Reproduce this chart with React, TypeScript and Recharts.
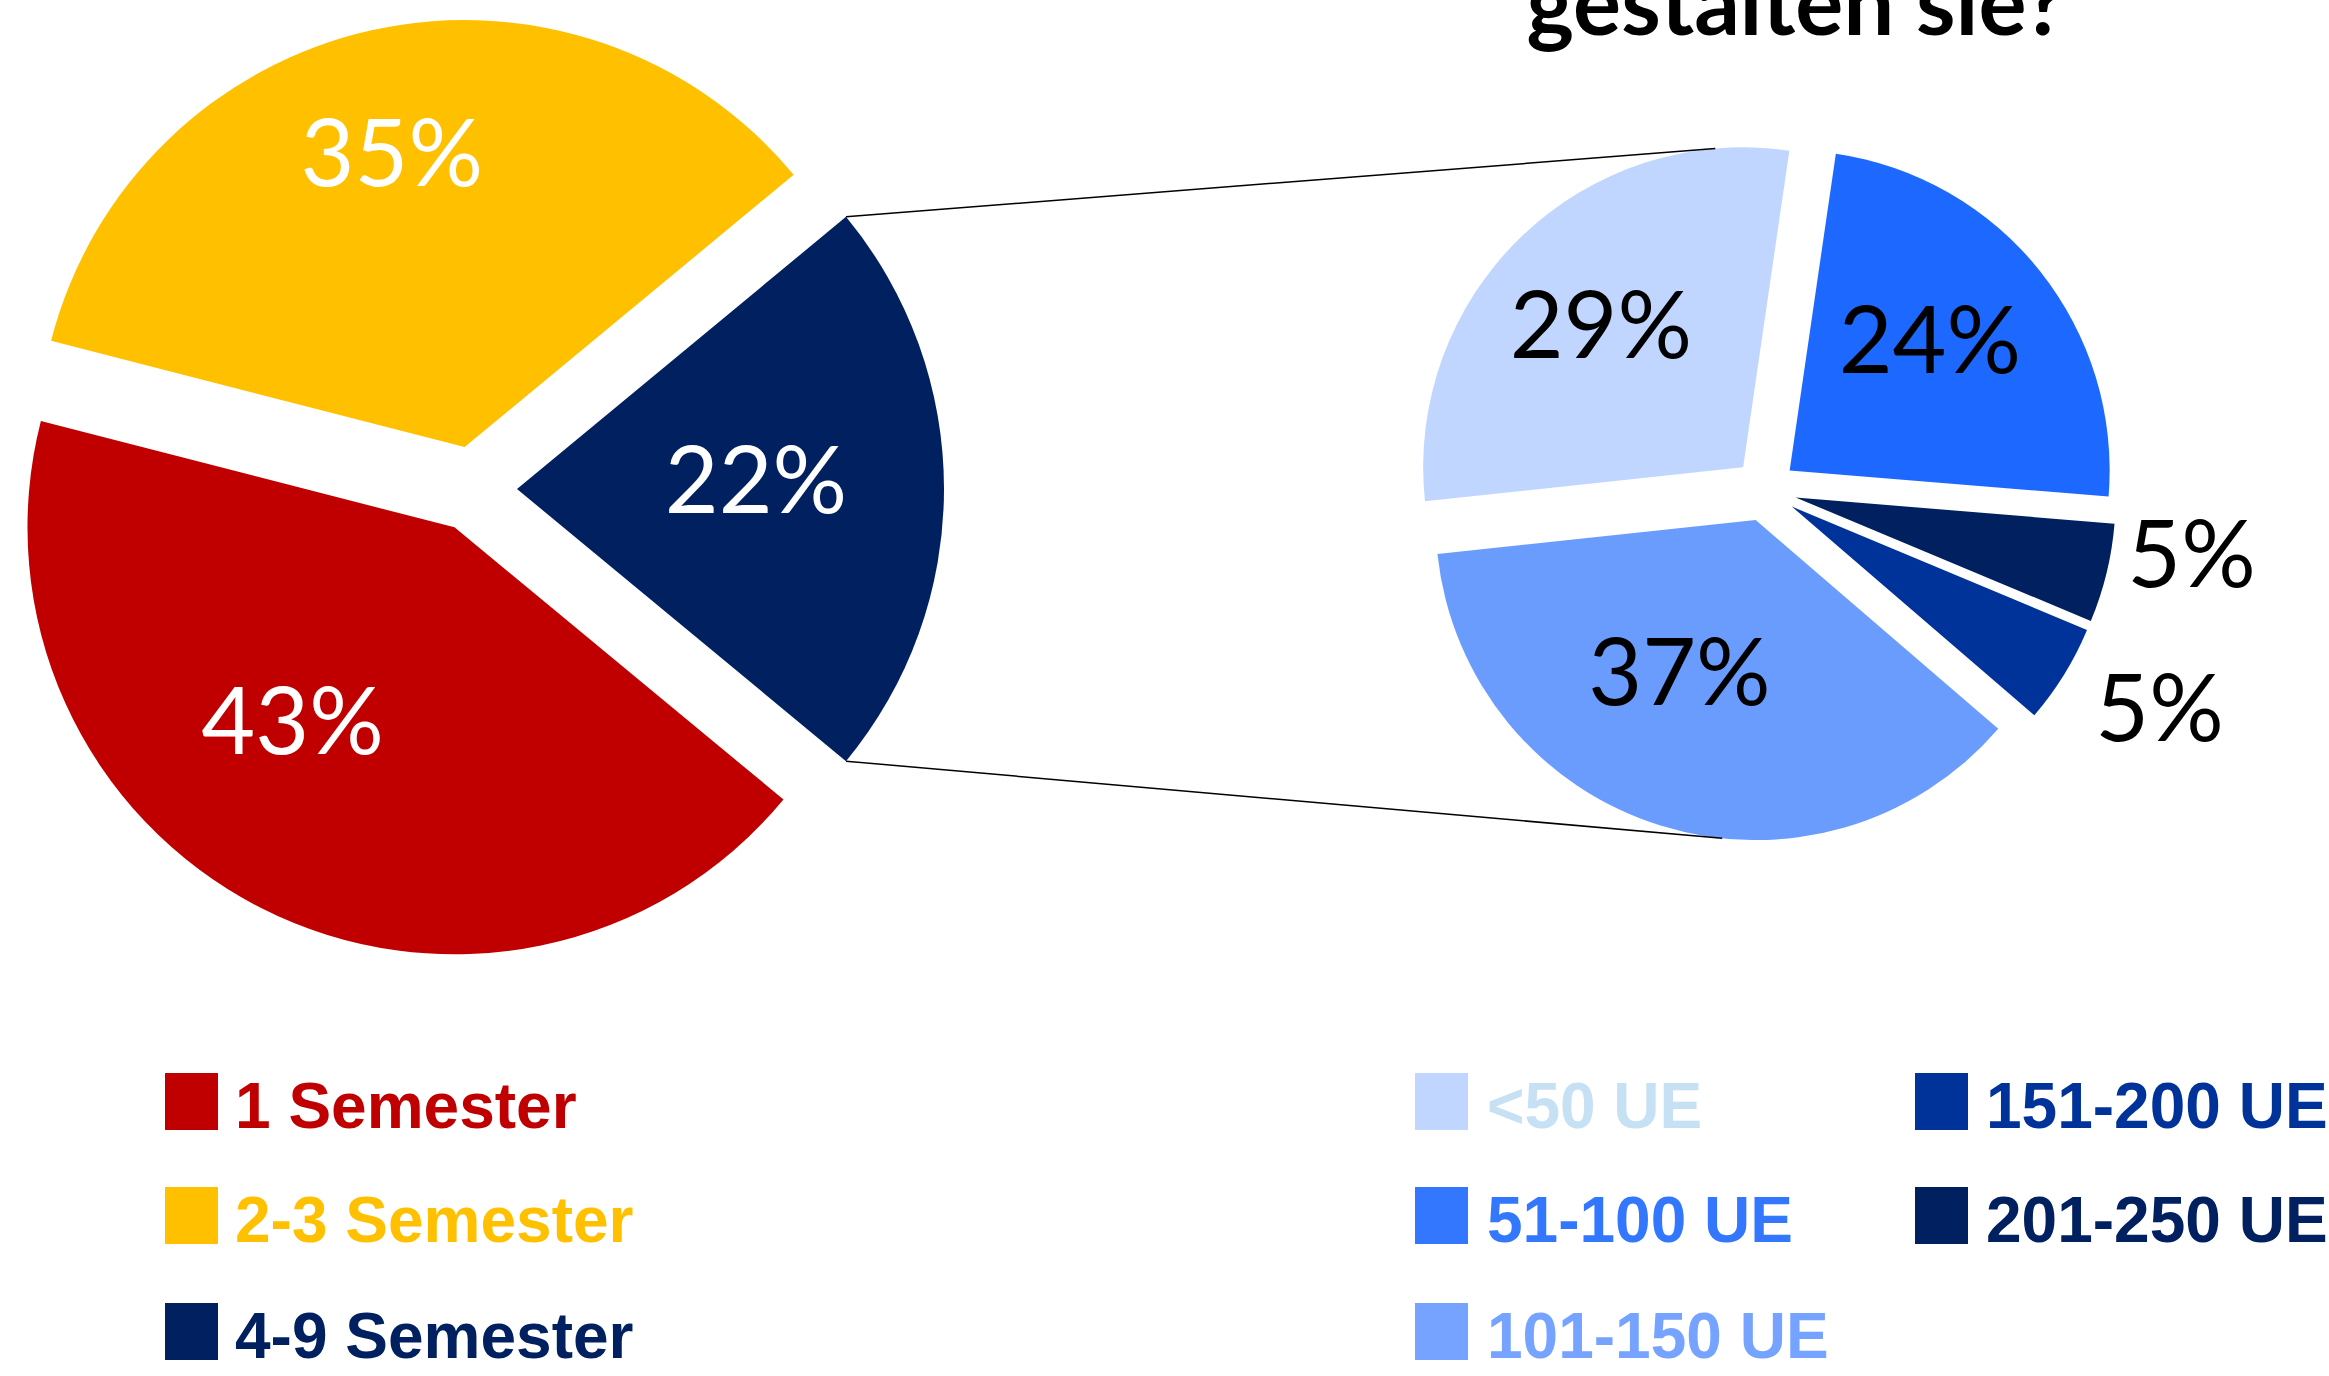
import React from "react";
import { PieChart, Pie, Cell } from "recharts";

/* ================= DATA ================= */

const semesterNames = ["1 Semester", "2-3 Semester", "4-9 Semester"];
const semesterShares = [43, 35, 22];

const ueNames = ["<50 UE", "51-100 UE", "101-150 UE", "151-200 UE", "201-250 UE"];
const ueShares = [29, 24, 37, 5, 5];

// order in which the second pie is drawn, counter-clockwise from its top edge
const uePieOrder = [0, 2, 3, 4, 1];

const titleLine = "gestalten sie?";

/* ================= STYLE ================= */

const W = 2329;
const H = 1376;

const semesterColors = ["#C00000", "#FFC000", "#002060"];
const ueSliceColors = ["#C1D6FE", "#1D69FF", "#6A9CFE", "#003399", "#00205F"];
const ueSwatchColors = ["#C1D6FE", "#3377FF", "#75A3FF", "#003399", "#002060"];
const ueTextColors = ["#C6E0F4", "#3377FF", "#75A3FF", "#003399", "#002060"];

const mainPie = { cx: 474, cy: 489, r: 427, explode: 43 };
const subPie = { cx: 1765, cy: 490, r: 320, explode: 31.5 };

// label placement: fraction of radius + angle nudge (deg), by category
const semesterLabelPos = [
  { f: 0.59, da: -13 },
  { f: 0.71, da: 1.3 },
  { f: 0.56, da: 2.2 },
];
const ueLabelPos = [
  { f: 0.63, da: 1 },
  { f: 0.6, da: 4.6 },
  { f: 0.53, da: -9.4 },
  { f: 1.31, da: 3 },
  { f: 1.25, da: 5.6 },
];

const labelFont = "Lato, 'Open Sans', sans-serif";
const legendFont = "'Liberation Sans', Arial, sans-serif";
const labelSize = 93;
const legendSize = 64;

/* ================= GEOMETRY ================= */

type Slice = {
  key: number;
  name: string;
  value: number;
  color: string;
  start: number;
  end: number;
  mid: number;
};

type Geo = { cx: number; cy: number; r: number; explode: number };

const RAD = Math.PI / 180;

const polar = (cx: number, cy: number, r: number, deg: number) => ({
  x: cx + r * Math.cos(deg * RAD),
  y: cy - r * Math.sin(deg * RAD),
});

const buildSlices = (
  names: string[],
  values: number[],
  colors: string[],
  order: number[],
  start: number,
  dir: number
): Slice[] => {
  const total = values.reduce((a, b) => a + b, 0);
  let angle = start;
  return order.map((i) => {
    const sweep = (values[i] / total) * 360 * dir;
    const s = {
      key: i,
      name: names[i],
      value: values[i],
      color: colors[i],
      start: angle,
      end: angle + sweep,
      mid: angle + sweep / 2,
    };
    angle += sweep;
    return s;
  });
};

// navy slice centred on 3 o'clock, drawn clockwise
const mainStart = -(semesterShares[2] / 100) * 360 / 2;
const mainSlices = buildSlices(
  semesterNames,
  semesterShares,
  semesterColors,
  [0, 1, 2],
  mainStart,
  -1
);
const subSlices = buildSlices(ueNames, ueShares, ueSliceColors, uePieOrder, 81.7, 1);

const explodedCenter = (geo: Geo, s: Slice) => polar(geo.cx, geo.cy, geo.explode, s.mid);

const arcPoint = (geo: Geo, s: Slice, deg: number) => {
  const c = explodedCenter(geo, s);
  return polar(c.x, c.y, geo.r, deg);
};

/* ================= PIES ================= */

function explodedPies(
  id: string,
  slices: Slice[],
  geo: Geo,
  dir: number,
  labelColor: string,
  labelPos: { f: number; da: number }[]
) {
  const data = slices.map((s) => ({ name: s.name, value: s.value }));

  return slices.map((s, k) => {
    const c = explodedCenter(geo, s);
    const pos = labelPos[s.key];

    return (
      <Pie
        key={`${id}-${k}`}
        data={data}
        dataKey="value"
        nameKey="name"
        cx={c.x}
        cy={c.y}
        outerRadius={geo.r}
        startAngle={slices[0].start}
        endAngle={slices[0].start + dir * 360}
        stroke="none"
        labelLine={false}
        legendType="none"
        isAnimationActive={false}
        label={(p: any) => {
          if (p.index !== k) return null;
          const mid = (typeof p.midAngle === "number" ? p.midAngle : s.mid) + pos.da;
          const pt = polar(c.x, c.y, geo.r * pos.f, mid);
          return (
            <text
              key={`lbl-${id}-${k}`}
              x={pt.x}
              y={pt.y + labelSize * 0.36}
              fill={labelColor}
              textAnchor="middle"
              fontFamily={labelFont}
              fontSize={labelSize}
            >
              {`${s.value}%`}
            </text>
          );
        }}
      >
        {slices.map((o, j) => (
          <Cell key={j} fill={j === k ? o.color : "none"} stroke="none" />
        ))}
      </Pie>
    );
  });
}

/* ================= APP ================= */

export default function App() {
  const navy = mainSlices[2];
  const navyCenter = explodedCenter(mainPie, navy);
  const lineTopStart = polar(navyCenter.x, navyCenter.y, mainPie.r, navy.start);
  const lineBotStart = polar(navyCenter.x, navyCenter.y, mainPie.r, navy.end);

  const topSlice = subSlices.find((s) => s.key === 0)!;
  const botSlice = subSlices.find((s) => s.key === 2)!;
  const lineTopEnd = arcPoint(subPie, topSlice, 95);
  const lineBotEnd = arcPoint(subPie, botSlice, 264);

  const rowBase = [1128, 1242, 1358];

  return (
    <div style={wrapper}>
      <PieChart width={W} height={H} margin={{ top: 0, right: 0, bottom: 0, left: 0 }}>
        {explodedPies("main", mainSlices, mainPie, -1, "#FFFFFF", semesterLabelPos)}
        {explodedPies("sub", subSlices, subPie, 1, "#000000", ueLabelPos)}
      </PieChart>

      <svg width={W} height={H} style={overlay}>
        {/* connectors */}
        <line
          x1={lineTopStart.x}
          y1={lineTopStart.y}
          x2={lineTopEnd.x}
          y2={lineTopEnd.y}
          stroke="#000"
          strokeWidth={1.5}
        />
        <line
          x1={lineBotStart.x}
          y1={lineBotStart.y}
          x2={lineBotEnd.x}
          y2={lineBotEnd.y}
          stroke="#000"
          strokeWidth={1.5}
        />

        {/* title (second line, top cut off) */}
        <text
          x={1796}
          y={35}
          textAnchor="middle"
          fontFamily={labelFont}
          fontWeight={700}
          fontSize={90}
          fill="#000"
        >
          {titleLine}
        </text>

        {/* legend: semesters */}
        {semesterNames.map((name, i) => (
          <g key={name}>
            <rect x={165} y={rowBase[i] - 55} width={53} height={57} fill={semesterColors[i]} />
            <text
              x={235}
              y={rowBase[i]}
              fontFamily={legendFont}
              fontWeight={700}
              fontSize={legendSize}
              fill={semesterColors[i]}
            >
              {name}
            </text>
          </g>
        ))}

        {/* legend: UE, column-major in 3 rows */}
        {ueNames.map((name, i) => {
          const col = Math.floor(i / 3);
          const row = i % 3;
          const sx = col === 0 ? 1415 : 1915;
          const tx = col === 0 ? 1487 : 1986;
          return (
            <g key={name}>
              <rect x={sx} y={rowBase[row] - 55} width={53} height={57} fill={ueSwatchColors[i]} />
              <text
                x={tx}
                y={rowBase[row]}
                fontFamily={legendFont}
                fontWeight={700}
                fontSize={legendSize}
                fill={ueTextColors[i]}
              >
                {name}
              </text>
            </g>
          );
        })}
      </svg>
    </div>
  );
}

/* ================= STYLES ================= */

const wrapper: React.CSSProperties = {
  position: "absolute",
  left: 0,
  top: 0,
  width: W,
  height: H,
  background: "#FFFFFF",
  overflow: "hidden",
};

const overlay: React.CSSProperties = {
  position: "absolute",
  left: 0,
  top: 0,
  pointerEvents: "none",
};
